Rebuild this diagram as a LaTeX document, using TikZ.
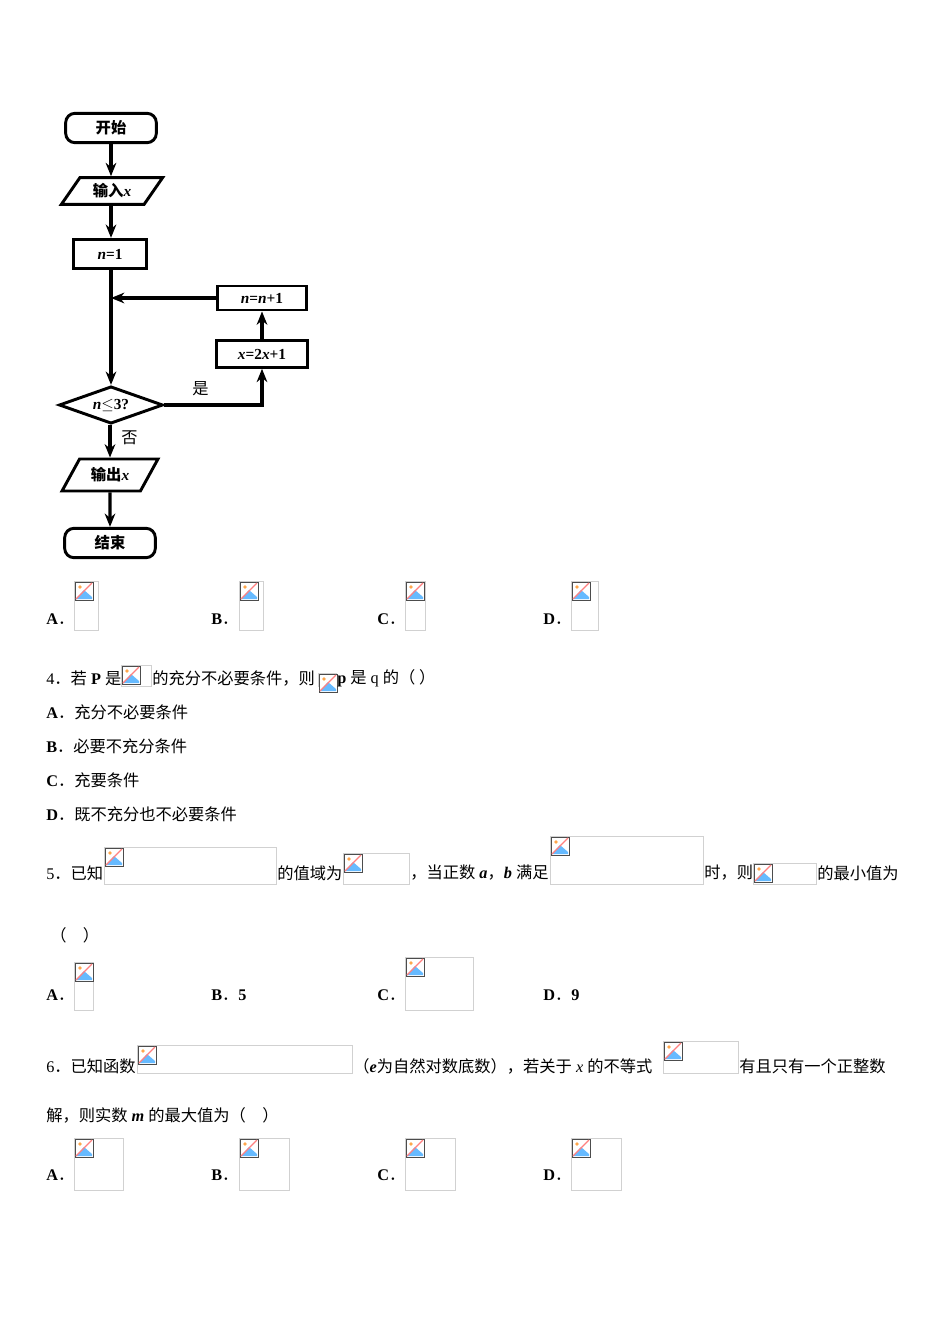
\documentclass[tikz,border=0pt]{standalone}
\usepackage{fontspec}
\setmainfont{Liberation Serif}
\newfontfamily\zhf{Noto Sans CJK SC}
\newcommand{\zh}[1]{{\zhf #1}}
\usetikzlibrary{shapes.geometric,arrows.meta}
\tikzset{
 fc/.style={draw,line width=2.2pt,minimum height=22pt,font=\fontsize{11.5}{13}\selectfont\bfseries},
 rbox/.style={fc,rounded corners=7pt},
 io/.style={fc,trapezium,trapezium left angle=60,trapezium right angle=120,trapezium stretches=true},
 fl/.style={line width=2.4pt,-{Stealth[length=10pt,width=8pt]}},
 tx/.style={anchor=west,inner sep=0pt,font=\fontsize{12.2}{14}\selectfont},
 bx/.style={draw=black!18,line width=0.6pt}
}
\newcommand{\ph}[4]{%
 \draw[bx] (#1,#2) rectangle (#3,#4);
 \fill[white] (#1+1,#2+1) rectangle (#1+19,#2+19);
 \draw[black!70,line width=0.6pt] (#1+1,#2+1) rectangle (#1+19,#2+19);
 \fill[blue!45!cyan!60] (#1+2,#2+18) -- (#1+10,#2+9) -- (#1+18,#2+16) -- (#1+18,#2+18) -- cycle;
 \fill[orange!70] (#1+6,#2+6) circle (1.8);
 \draw[red!50,line width=1pt] (#1+2,#2+18) -- (#1+18,#2+2);}
\begin{document}
\begin{tikzpicture}[x=0.75pt,y=-0.75pt]
\useasboundingbox[fill=white] (0,0) rectangle (950,1344);
% flowchart
\node[rbox,minimum width=68pt,minimum height=22pt] (s) at (111,128) {\zh{开始}};
\node[io,minimum width=76pt,minimum height=20pt] (in) at (112,191) {\zh{输入}\textit{x}};
\node[fc,minimum width=55pt,minimum height=22pt] (n1) at (110,254) {\textit{n}=1};
\node[fc,minimum width=67pt,minimum height=18pt] (inc) at (262,298) {\textit{n}=\textit{n}+1};
\node[fc,minimum width=68pt,minimum height=20pt] (up) at (262,354) {\textit{x}=2\textit{x}+1};
\node[fc,diamond,aspect=2.7,minimum width=78pt,minimum height=28pt,inner sep=0pt] (d) at (111,405) {\textit{n}$\leq$3?};
\node[io,minimum width=72pt,minimum height=24pt] (out) at (110,475) {\zh{输出}\textit{x}};
\node[rbox,minimum width=68pt,minimum height=22pt] (e) at (110,543) {\zh{结束}};
\coordinate (j) at (111,298);
\draw[fl] (s.south -| d) -- (in.north -| d);
\draw[fl] (in.south -| d) -- (n1.north -| d);
\draw[fl] (n1.south -| d) -- (d.north);
\draw[fl] (inc.west) -- (j);
\draw[fl] (d.east) -| (up.south);
\draw[fl] (up) -- (inc);
\draw[fl] (d.south -| out.north) -- (out.north);
\draw[fl] (out) -- (e);
\node[tx] (y) at (192,389) {\zh{是}};
\node[tx] (nn) at (121,438) {\zh{否}};
% options row 1
\node[tx] at (46,619) {\textbf{A}\zh{．}}; \ph{74}{581}{98}{630}
\node[tx] at (211,619) {\textbf{B}\zh{．}}; \ph{239}{581}{263}{630}
\node[tx] at (377,619) {\textbf{C}\zh{．}}; \ph{405}{581}{425}{630}
\node[tx] at (543,619) {\textbf{D}\zh{．}}; \ph{571}{581}{598}{630}
% Q4
\node[tx] at (46,678) {4\zh{．若} \textbf{P} \zh{是}}; \ph{121}{665}{151}{686}
\node[tx] at (152,678) {\zh{的充分不必要条件，则}}; \ph{318}{673}{336}{686}
\node[tx] at (337,678) {\textbf{p} \zh{是} q \zh{的（ ）}};
\node[tx] at (46,712) {\textbf{A}\zh{．充分不必要条件}};
\node[tx] at (46,746) {\textbf{B}\zh{．必要不充分条件}};
\node[tx] at (46,780) {\textbf{C}\zh{．充要条件}};
\node[tx] at (46,814) {\textbf{D}\zh{．既不充分也不必要条件}};
% Q5
\node[tx] at (46,873) {5\zh{．已知}}; \ph{104}{847}{276}{884}
\node[tx] at (277,873) {\zh{的值域为}}; \ph{343}{853}{409}{884}
\node[tx] at (410,873) {\zh{，当正数} \textbf{\textit{a}}\zh{，}\textbf{\textit{b}} \zh{满足}}; \ph{550}{836}{703}{884}
\node[tx] at (704,873) {\zh{时，则}}; \ph{753}{863}{816}{884}
\node[tx] at (817,873) {\zh{的最小值为}};
\node[tx] at (50,935) {\zh{（　）}};
\node[tx] at (46,995) {\textbf{A}\zh{．}}; \ph{74}{962}{93}{1010}
\node[tx] at (211,995) {\textbf{B}\zh{．}\textbf{5}};
\node[tx] at (377,995) {\textbf{C}\zh{．}}; \ph{405}{957}{473}{1010}
\node[tx] at (543,995) {\textbf{D}\zh{．}\textbf{9}};
% Q6
\node[tx] at (46,1066) {6\zh{．已知函数}}; \ph{137}{1045}{352}{1073}
\node[tx] at (353,1066) {\zh{（}\textbf{\textit{e}}\zh{为自然对数底数），若关于} \textit{x} \zh{的不等式}}; \ph{663}{1041}{738}{1073}
\node[tx] at (739,1066) {\zh{有且只有一个正整数}};
\node[tx] at (46,1115) {\zh{解，则实数} \textbf{\textit{m}} \zh{的最大值为（　）}};
\node[tx] at (46,1175) {\textbf{A}\zh{．}}; \ph{74}{1138}{123}{1190}
\node[tx] at (211,1175) {\textbf{B}\zh{．}}; \ph{239}{1138}{289}{1190}
\node[tx] at (377,1175) {\textbf{C}\zh{．}}; \ph{405}{1138}{455}{1190}
\node[tx] at (543,1175) {\textbf{D}\zh{．}}; \ph{571}{1138}{621}{1190}
\end{tikzpicture}
\end{document}
